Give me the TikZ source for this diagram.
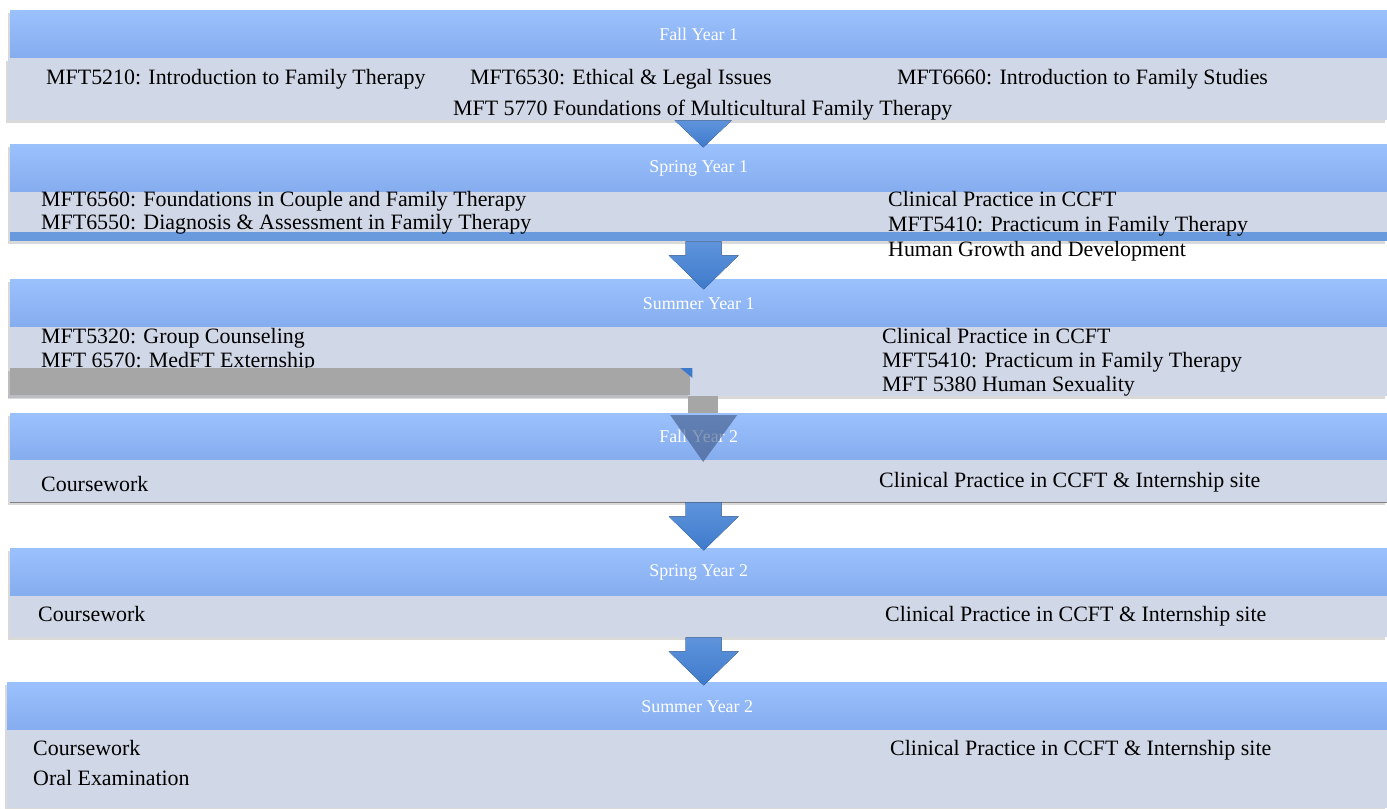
\documentclass[tikz,border=0pt]{standalone}
\usepackage{fontspec}
\setmainfont{Liberation Serif}
\usetikzlibrary{shadows}
\definecolor{hdtop}{RGB}{155,193,253}
\definecolor{hdbot}{RGB}{133,172,238}
\definecolor{bodyc}{RGB}{208,215,230}
\definecolor{arrtop}{RGB}{95,148,220}
\definecolor{arrbot}{RGB}{62,122,203}
\definecolor{bandc}{RGB}{104,154,221}
\definecolor{greyc}{RGB}{166,166,166}
\definecolor{darkhead}{RGB}{60,85,130}
\newcommand\coursefont{\fontsize{22}{24}\selectfont}
\newcommand\seasonfont{\fontsize{18}{20}\selectfont}
\begin{document}
\begin{tikzpicture}[x=1bp,y=-1bp,inner sep=0pt,
  soft/.style={drop shadow={shadow xshift=-2bp,shadow yshift=-3bp,opacity=.3}},
  headband/.style={anchor=north west,minimum width=1377bp,minimum height=48bp,
    top color=hdtop,bottom color=hdbot,text=white,font=\seasonfont,soft},
  bodyband/.style={anchor=north west,minimum width=1377bp,fill=bodyc,soft},
  course/.style={anchor=base west,font=\coursefont},
  flow/.style={top color=arrtop,bottom color=arrbot},
  flowarrow/.pic={\fill[flow] (-18,0) -- (18,0) -- (18,14) -- (35,14) -- (0,48) -- (-35,14) -- (-18,14) -- cycle;}]
\useasboundingbox (0,0) rectangle (1387,808);
% Fall Year 1
\node[headband] (h1) at (10,10) {Fall Year 1};
\node[bodyband,minimum width=1379bp,minimum height=62bp] (b1) at (8,58) {};
\node[course] (fy1a) at (46,84) {MFT5210: Introduction to Family Therapy};
\node[course] (fy1b) at (470,84) {MFT6530: Ethical \& Legal Issues};
\node[course] (fy1c) at (897,84) {MFT6660: Introduction to Family Studies};
\node[course] (fy1d) at (453,115) {MFT 5770 Foundations of Multicultural Family Therapy};
% Spring Year 1
\node[headband] (h2) at (10,144) {Spring Year 1};
\fill[flow] ([xshift=-23bp]b1.south) -- ([xshift=34bp]b1.south) -- ([xshift=5.5bp,yshift=-27bp]b1.south) -- cycle;
\node[bodyband,minimum height=40bp] (b2) at (10,192) {};
\node[anchor=north west,minimum width=1377bp,minimum height=9bp,fill=bandc,soft] (sb2) at (10,232) {};
\node[course] (sp1a) at (41,206) {MFT6560: Foundations in Couple and Family Therapy};
\node[course] (sp1b) at (41,229) {MFT6550: Diagnosis \& Assessment in Family Therapy};
\node[course] (sp1c) at (888,206) {Clinical Practice in CCFT};
\node[course] (sp1d) at (888,231) {MFT5410: Practicum in Family Therapy};
\node[course] (sp1e) at (888,256) {Human Growth and Development};
% Summer Year 1
\node[headband] (h3) at (10,279) {Summer Year 1};
\pic at ([xshift=5bp]sb2.south) {flowarrow};
\node[bodyband,minimum height=69bp] (b3) at (10,327) {};
\node[course] (su1a) at (41,343) {MFT5320: Group Counseling};
\node[course] (su1b) at (41,367) {MFT 6570: MedFT Externship};
\node[course] (su1c) at (882,343) {Clinical Practice in CCFT};
\node[course] (su1d) at (882,367) {MFT5410: Practicum in Family Therapy};
\node[course] (su1e) at (882,391) {MFT 5380 Human Sexuality};
\node[anchor=north west,minimum width=680bp,minimum height=27bp,fill=greyc,soft] (gx) at (10,368) {};
\fill[arrbot] ([xshift=-10bp]gx.north east) -- ([xshift=2bp]gx.north east) -- ([xshift=2bp,yshift=-10bp]gx.north east) -- cycle;
% Fall Year 2
\node[headband,minimum height=47bp] (h4) at (10,413) {Fall Year 2};
\fill[greyc] ([xshift=-10.5bp]b3.south) rectangle ([xshift=19.5bp]h4.north);
\node[bodyband,minimum height=42bp] (b4) at (10,460) {};
\draw[gray] (b4.south west) -- (b4.south east);
\fill[darkhead,opacity=.6] ([xshift=-28.5bp,yshift=-2bp]h4.north) -- ([xshift=38.5bp,yshift=-2bp]h4.north) -- ([xshift=4.5bp,yshift=-49bp]h4.north) -- cycle;
\node[course] (fy2a) at (41,491) {Coursework};
\node[course] (fy2b) at (879,487) {Clinical Practice in CCFT \& Internship site};
% Spring Year 2
\node[headband] (h5) at (10,548) {Spring Year 2};
\pic at ([xshift=5bp]b4.south) {flowarrow};
\node[bodyband,minimum height=41bp] (b5) at (10,596) {};
\node[course] (sp2a) at (38,621) {Coursework};
\node[course] (sp2b) at (885,621) {Clinical Practice in CCFT \& Internship site};
% Summer Year 2
\node[headband,minimum width=1380bp] (h6) at (7,682) {Summer Year 2};
\pic at ([xshift=5bp]b5.south) {flowarrow};
\node[bodyband,minimum width=1380bp,minimum height=78bp] (b6) at (7,730) {};
\node[course] (su2a) at (33,755) {Coursework};
\node[course] (su2b) at (33,785) {Oral Examination};
\node[course] (su2c) at (890,755) {Clinical Practice in CCFT \& Internship site};
\end{tikzpicture}
\end{document}
